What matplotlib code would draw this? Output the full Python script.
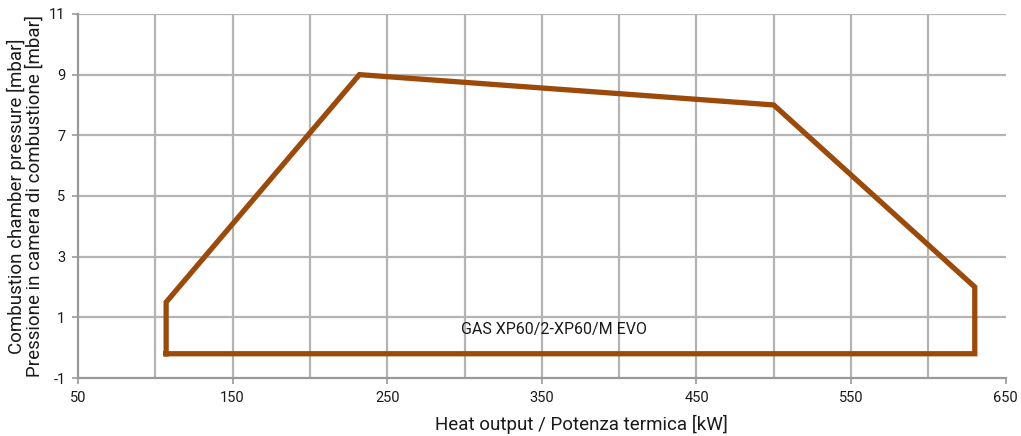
import matplotlib
matplotlib.use("Agg")
import matplotlib.pyplot as plt

# working field polygon (heat output kW, chamber pressure mbar)
power = [107, 107, 232, 500, 630, 630, 107]
pressure = [-0.2, 1.5, 9, 8, 2, -0.2, -0.2]
model = "GAS XP60/2-XP60/M EVO"

xticks = [50, 150, 250, 350, 450, 550, 650]
yticks = [-1, 1, 3, 5, 7, 9, 11]

plt.rcParams['font.family'] = ['Roboto', 'DejaVu Sans']
plt.rcParams['axes.unicode_minus'] = False
plt.rcParams['text.color'] = '#1a1a1a'
plt.rcParams['axes.labelcolor'] = '#1a1a1a'
plt.rcParams['xtick.labelcolor'] = '#1a1a1a'
plt.rcParams['ytick.labelcolor'] = '#1a1a1a'

fig = plt.figure(figsize=(10.21, 4.36), dpi=100)
ax = fig.add_axes([0.0764, 0.133, 0.9086, 0.835])

grid_c = '#b4b4b4'
for v in range(100, 650, 50):
    ax.axvline(v, color=grid_c, lw=1.6, zorder=1)
for v in yticks[1:]:
    ax.axhline(v, color=grid_c, lw=1.6, zorder=1)

ax.plot(power, pressure, color='#9c4a0a', lw=3.8, solid_joinstyle='miter', zorder=3)
ax.text(358, 0.6, model, ha='center', va='center', fontsize=11.5)

ax.set_xlim(50, 650)
ax.set_ylim(-1, 11)
ax.set_xticks(xticks)
ax.set_yticks(yticks)
ax.tick_params(direction='out', length=4, width=1.2, color='#999999', labelsize=10.5, pad=5)
for s in ['top', 'right']:
    ax.spines[s].set_visible(False)
for s in ['left', 'bottom']:
    ax.spines[s].set_color('#999999')
    ax.spines[s].set_linewidth(1.6)

ax.set_xlabel("Heat output / Potenza termica [kW]", fontsize=13.5, labelpad=4)
ax.xaxis.set_label_coords(0.543, -0.1)
ax.set_ylabel("Combustion chamber pressure [mbar]\nPressione in camera di combustione [mbar]",
              fontsize=13.5, labelpad=4, linespacing=0.95)

fig.savefig("out.png", dpi=100)
